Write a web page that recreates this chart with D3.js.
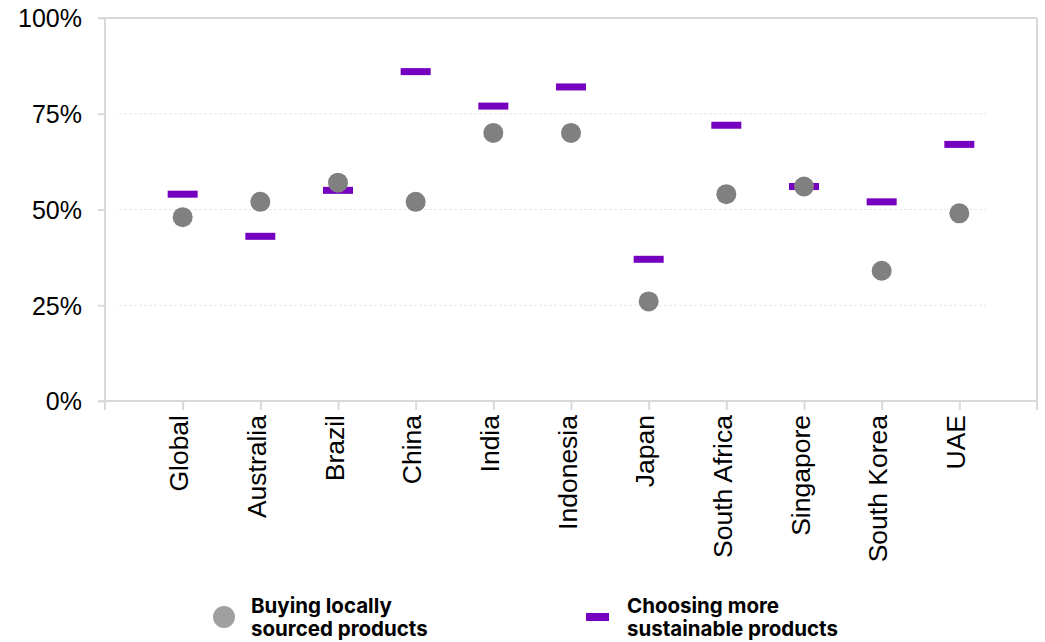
<!DOCTYPE html>
<html>
<head>
<meta charset="utf-8">
<script src="https://cdn.jsdelivr.net/npm/d3@7"></script>
<style>
  html, body { margin: 0; padding: 0; background: #ffffff; }
  svg { display: block; }
</style>
</head>
<body>
<svg id="chart" width="1045" height="642"></svg>
<script>
// Share of respondents by market
const countries = ["Global", "Australia", "Brazil", "China", "India", "Indonesia",
                   "Japan", "South Africa", "Singapore", "South Korea", "UAE"];
const buyingLocal = [48, 52, 57, 52, 70, 70, 26, 54, 56, 34, 49];
const sustainable = [54, 43, 55, 86, 77, 82, 37, 72, 56, 52, 67];
const yTicks = [0, 25, 50, 75, 100];
const seriesNames = [["Buying locally", "sourced products"],
                     ["Choosing more", "sustainable products"]];

const GREY = "#808080";
const PURPLE = "#7500c0";
const AXIS = "#d9d9d9";

const svg = d3.select("#chart");
const plot = { left: 105, right: 1037, top: 18, bottom: 401 };

const x = d3.scalePoint()
  .domain(countries)
  .range([plot.left, plot.right])
  .padding(1);

const y = d3.scaleLinear()
  .domain([0, 100])
  .range([plot.bottom, plot.top]);

// dashed gridlines
svg.append("g")
  .selectAll("line")
  .data(yTicks.filter(d => d > 0 && d < 100))
  .join("line")
  .attr("x1", 119).attr("x2", 986)
  .attr("y1", d => y(d)).attr("y2", d => y(d))
  .attr("stroke", "#e8e8e8")
  .attr("stroke-width", 1)
  .attr("stroke-dasharray", "3,2");

// frame: top and right edges
svg.append("line")
  .attr("x1", plot.left - 7).attr("x2", plot.right)
  .attr("y1", y(100)).attr("y2", y(100))
  .attr("stroke", AXIS).attr("stroke-width", 2);
svg.append("line")
  .attr("x1", plot.right).attr("x2", plot.right)
  .attr("y1", y(100)).attr("y2", plot.bottom + 9)
  .attr("stroke", AXIS).attr("stroke-width", 2);

// y axis
const yAxis = svg.append("g")
  .attr("transform", `translate(${plot.left},0)`)
  .call(d3.axisLeft(y).tickValues(yTicks).tickFormat(d => d + "%").tickSize(7).tickSizeOuter(0));
yAxis.select(".domain").attr("stroke", AXIS).attr("stroke-width", 2)
  .attr("d", `M0,${plot.top}V${plot.bottom + 9}`);
yAxis.selectAll(".tick line").attr("stroke", AXIS).attr("stroke-width", 2);
yAxis.selectAll(".tick text")
  .attr("x", -23)
  .attr("dy", "0.35em")
  .attr("fill", "#000")
  .style("font-family", "'Liberation Sans', Arial, sans-serif")
  .style("font-size", "25px");

// x axis
const xAxis = svg.append("g")
  .attr("transform", `translate(0,${plot.bottom})`)
  .call(d3.axisBottom(x).tickSize(9).tickSizeOuter(0));
xAxis.select(".domain").attr("stroke", AXIS).attr("stroke-width", 2)
  .attr("d", `M${plot.left - 7},0H${plot.right}`);
xAxis.selectAll(".tick line").attr("stroke", AXIS).attr("stroke-width", 2);
xAxis.selectAll(".tick text")
  .attr("transform", "rotate(-90)")
  .attr("x", -14)
  .attr("y", 0)
  .attr("dy", "0.2em")
  .attr("text-anchor", "end")
  .attr("fill", "#000")
  .style("font-family", "'Liberation Sans', Arial, sans-serif")
  .style("font-size", "26.5px");

// dash markers: choosing more sustainable products
svg.append("g")
  .selectAll("rect")
  .data(countries)
  .join("rect")
  .attr("x", d => x(d) - 15)
  .attr("y", (d, i) => y(sustainable[i]) - 3.5)
  .attr("width", 30)
  .attr("height", 7)
  .attr("fill", PURPLE);

// dot markers: buying locally sourced products
svg.append("g")
  .selectAll("circle")
  .data(countries)
  .join("circle")
  .attr("cx", d => x(d))
  .attr("cy", (d, i) => y(buyingLocal[i]))
  .attr("r", 10)
  .attr("fill", GREY);

// legend
const legend = svg.append("g")
  .style("font-family", "Inter, 'Liberation Sans', sans-serif")
  .style("font-weight", 700)
  .style("font-size", "20.5px")
  .attr("fill", "#000");

legend.append("circle").attr("cx", 224).attr("cy", 617).attr("r", 11).attr("fill", "#a0a0a0");
legend.append("rect").attr("x", 586).attr("y", 613).attr("width", 23).attr("height", 8).attr("fill", PURPLE);

[[251, seriesNames[0]], [627, seriesNames[1]]].forEach(([lx, lines]) => {
  const t = legend.append("text").attr("x", lx).attr("y", 613);
  lines.forEach((ln, k) => {
    t.append("tspan").attr("x", lx).attr("dy", k === 0 ? 0 : 23).text(ln);
  });
});
</script>
</body>
</html>
